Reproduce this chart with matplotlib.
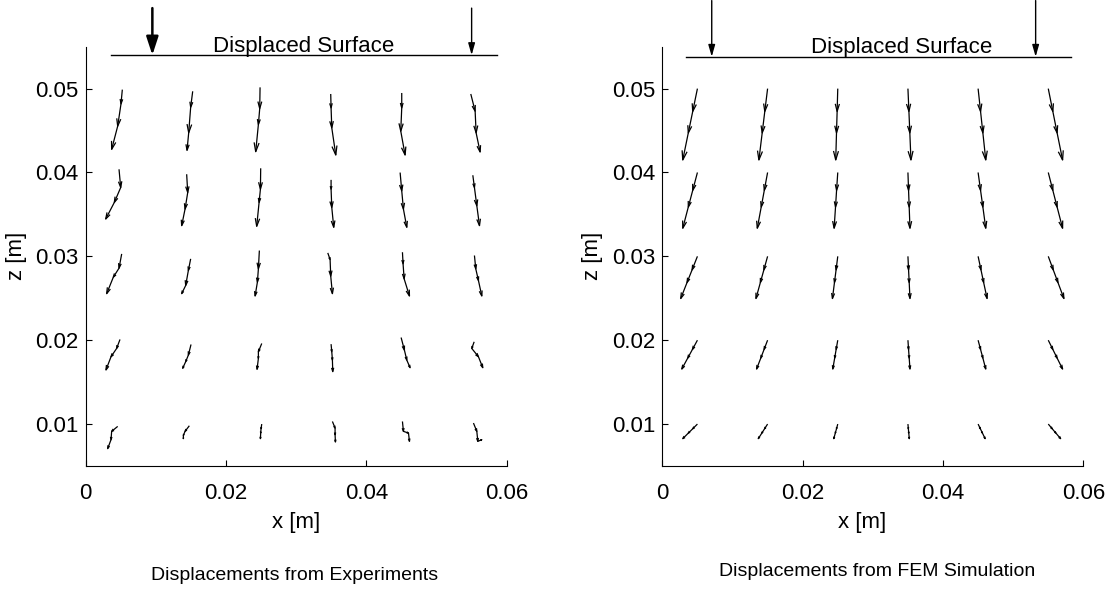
import numpy as np
import matplotlib.pyplot as plt
from matplotlib.collections import LineCollection

plt.rcParams['font.family'] = ['Liberation Sans', 'DejaVu Sans']

# marker grid [mm]
grid_x = [5, 15, 25, 35, 45, 55]
grid_z = [50, 40, 30, 20, 10]

# experiments: tracked marker positions [mm], rows top -> bottom,
# start + 3 load steps per marker
exp_x = [
    [[5.22, 5.03, 4.56, 3.70], [15.25, 14.96, 14.68, 14.44], [24.85, 24.80, 24.61, 24.23],
     [34.92, 34.97, 35.07, 35.64], [45.04, 45.04, 44.90, 45.52], [54.88, 55.50, 55.64, 56.21]],
    [[4.75, 4.99, 4.08, 2.85], [14.39, 14.54, 14.16, 13.68], [24.94, 24.90, 24.71, 24.37],
     [34.97, 34.97, 35.07, 35.35], [44.81, 45.04, 45.28, 45.76], [55.17, 55.40, 55.74, 56.12]],
    [[5.13, 4.75, 3.94, 2.99], [14.96, 14.63, 14.25, 13.68], [24.75, 24.61, 24.47, 24.14],
     [34.50, 34.83, 34.92, 35.16], [45.14, 45.23, 45.38, 46.14], [55.40, 55.59, 55.97, 56.45]],
    [[4.89, 4.41, 3.61, 2.89], [15.01, 14.63, 14.25, 13.82], [25.09, 24.61, 24.61, 24.42],
     [34.97, 35.07, 35.16, 35.21], [44.95, 45.42, 45.76, 46.23], [55.36, 55.02, 55.97, 56.59]],
    [[4.56, 3.70, 3.61, 3.13], [14.77, 14.16, 13.92, 13.92], [25.09, 24.99, 24.94, 24.90],
     [35.16, 35.54, 35.54, 35.59], [45.14, 45.28, 46.00, 46.14], [55.26, 55.74, 55.88, 56.45]],
]
exp_z = [
    [[49.88, 48.18, 45.53, 42.76], [49.68, 47.78, 44.74, 42.64], [50.15, 47.62, 45.72, 42.48],
     [49.36, 47.70, 45.33, 42.08], [49.48, 47.70, 44.93, 42.08], [49.36, 47.31, 44.73, 42.44]],
    [[40.38, 38.21, 36.43, 34.45], [39.79, 37.61, 35.64, 33.66], [40.50, 38.01, 36.43, 33.58],
     [39.12, 38.01, 35.83, 33.46], [39.99, 37.81, 35.64, 33.46], [39.67, 38.21, 36.03, 33.66]],
    [[30.29, 28.59, 27.52, 25.55], [29.70, 28.31, 26.53, 25.55], [30.69, 28.51, 26.93, 25.27],
     [30.41, 29.62, 27.64, 25.55], [30.49, 29.11, 27.33, 25.27], [30.10, 28.51, 27.12, 25.27]],
    [[20.09, 19.02, 18.03, 16.45], [19.49, 18.22, 17.44, 16.65], [19.61, 18.62, 17.83, 16.53],
     [19.53, 18.62, 17.63, 16.25], [20.32, 18.82, 17.63, 16.72], [19.81, 19.02, 18.03, 16.72]],
    [[9.72, 9.13, 8.14, 7.07], [9.80, 9.13, 8.65, 8.26], [10.00, 9.45, 8.93, 8.26],
     [10.31, 9.52, 8.73, 7.86], [10.31, 9.13, 8.93, 7.94], [10.12, 9.13, 7.94, 8.14]],
]

# FEM: horizontal displacement [mm] at each load step (rows x columns)
fem_u = [
    [[-0.67, -0.40, -0.09, 0.14, 0.35, 0.65],
     [-0.67, -0.47, -0.17, 0.09, 0.35, 0.65],
     [-0.76, -0.53, -0.24, 0.09, 0.41, 0.71],
     [-0.71, -0.50, -0.23, 0.09, 0.35, 0.65],
     [-0.67, -0.43, -0.18, 0.06, 0.32, 0.56]],
    [[-1.30, -0.77, -0.18, 0.27, 0.68, 1.26],
     [-1.30, -0.91, -0.32, 0.18, 0.68, 1.26],
     [-1.48, -1.03, -0.47, 0.18, 0.79, 1.38],
     [-1.38, -0.97, -0.44, 0.18, 0.68, 1.26],
     [-1.30, -0.82, -0.35, 0.12, 0.62, 1.09]],
    [[-2.09, -1.24, -0.29, 0.43, 1.09, 2.04],
     [-2.09, -1.47, -0.52, 0.29, 1.09, 2.04],
     [-2.38, -1.66, -0.76, 0.29, 1.28, 2.23],
     [-2.23, -1.57, -0.71, 0.29, 1.09, 2.04],
     [-2.09, -1.33, -0.57, 0.19, 1.00, 1.76]],
]
# FEM: vertical displacement [mm] at each load step (per row)
fem_w = [
    [-2.72, -2.13, -1.61, -1.10, -0.56],
    [-5.28, -4.12, -3.12, -2.13, -1.08],
    [-8.51, -6.65, -5.03, -3.44, -1.74],
]

# displaced surface line and load arrows [m]
surf_z = [0.0540, 0.0538]
surf_x = [(0.00356, 0.0586), (0.00333, 0.0583)]
load_x = [(0.0095, 0.055), (0.00704, 0.0532)]
load_top = [0.0596, 0.0605]
text_x = [0.031, 0.0341]
titles = ['Displacements from Experiments', 'Displacements from FEM Simulation']


def track_lines(x, z, alpha=0.33, beta=0.33):
    # polyline plus a matlab-quiver style head on every step
    x = np.asarray(x) * 1e-3
    z = np.asarray(z) * 1e-3
    segs = [np.column_stack([x, z])]
    u, v = np.diff(x), np.diff(z)
    for xe, ze, du, dv in zip(x[1:], z[1:], u, v):
        hx = [xe - alpha * (du + beta * dv), xe, xe - alpha * (du - beta * dv)]
        hz = [ze - alpha * (dv - beta * du), ze, ze - alpha * (dv + beta * du)]
        segs.append(np.column_stack([hx, hz]))
    return segs


fig = plt.figure(figsize=(11.1, 5.94), dpi=100)
ax1 = fig.add_axes([0.0772, 0.2155, 0.3793, 0.7059])
ax2 = fig.add_axes([0.5967, 0.2155, 0.3793, 0.7059])

segs = []
for r in range(len(grid_z)):
    for c in range(len(grid_x)):
        segs += track_lines(exp_x[r][c], exp_z[r][c])
ax1.add_collection(LineCollection(segs, colors='k', linewidths=0.9))

segs = []
for r in range(len(grid_z)):
    for c in range(len(grid_x)):
        xs = [grid_x[c]] + [grid_x[c] + fem_u[s][r][c] for s in range(3)]
        zs = [grid_z[r]] + [grid_z[r] + fem_w[s][r] for s in range(3)]
        segs += track_lines(xs, zs)
ax2.add_collection(LineCollection(segs, colors='k', linewidths=0.9))

for i, ax in enumerate([ax1, ax2]):
    ax.set_xlim(0, 0.06)
    ax.set_ylim(0.005, 0.055)
    ax.set_xticks([0, 0.02, 0.04, 0.06])
    ax.set_xticklabels(['0', '0.02', '0.04', '0.06'])
    ax.set_yticks([0.01, 0.02, 0.03, 0.04, 0.05])
    ax.spines['top'].set_visible(False)
    ax.spines['right'].set_visible(False)
    for sp in ['left', 'bottom']:
        ax.spines[sp].set_linewidth(0.8)
    ax.tick_params(direction='in', length=4, width=0.8, labelsize=16)
    ax.tick_params(axis='x', pad=12)
    ax.tick_params(axis='y', pad=5)
    ax.set_xlabel('x [m]', fontsize=16)
    ax.set_ylabel('z [m]', fontsize=16)
    ax.yaxis.set_label_coords(-0.14, 0.5)

    # displaced surface
    ax.plot(surf_x[i], [surf_z[i], surf_z[i]], color='k', lw=1.0, clip_on=False)
    ax.text(text_x[i], surf_z[i] + 0.0004, 'Displaced Surface', fontsize=16,
            ha='center', va='baseline')
    for j, lx in enumerate(load_x[i]):
        big = (i == 0 and j == 0)
        style = ('-|>,head_length=1.1,head_width=0.36' if big
                 else '-|>,head_length=0.7,head_width=0.2')
        ax.annotate('', xy=(lx, surf_z[i]), xytext=(lx, load_top[i]),
                    annotation_clip=False,
                    arrowprops=dict(arrowstyle=style, color='k',
                                    lw=1.8 if big else 1.0,
                                    shrinkA=0, shrinkB=0, mutation_scale=10))

ax1.xaxis.set_label_coords(0.5, -0.11)
ax2.xaxis.set_label_coords(0.475, -0.11)

fig.text(294.5 / 1110, 1 - 576 / 594, titles[0], fontsize=14, ha='center', va='center')
fig.text(877 / 1110, 1 - 572 / 594, titles[1], fontsize=14, ha='center', va='center')

fig.savefig('out.png', dpi=100)
